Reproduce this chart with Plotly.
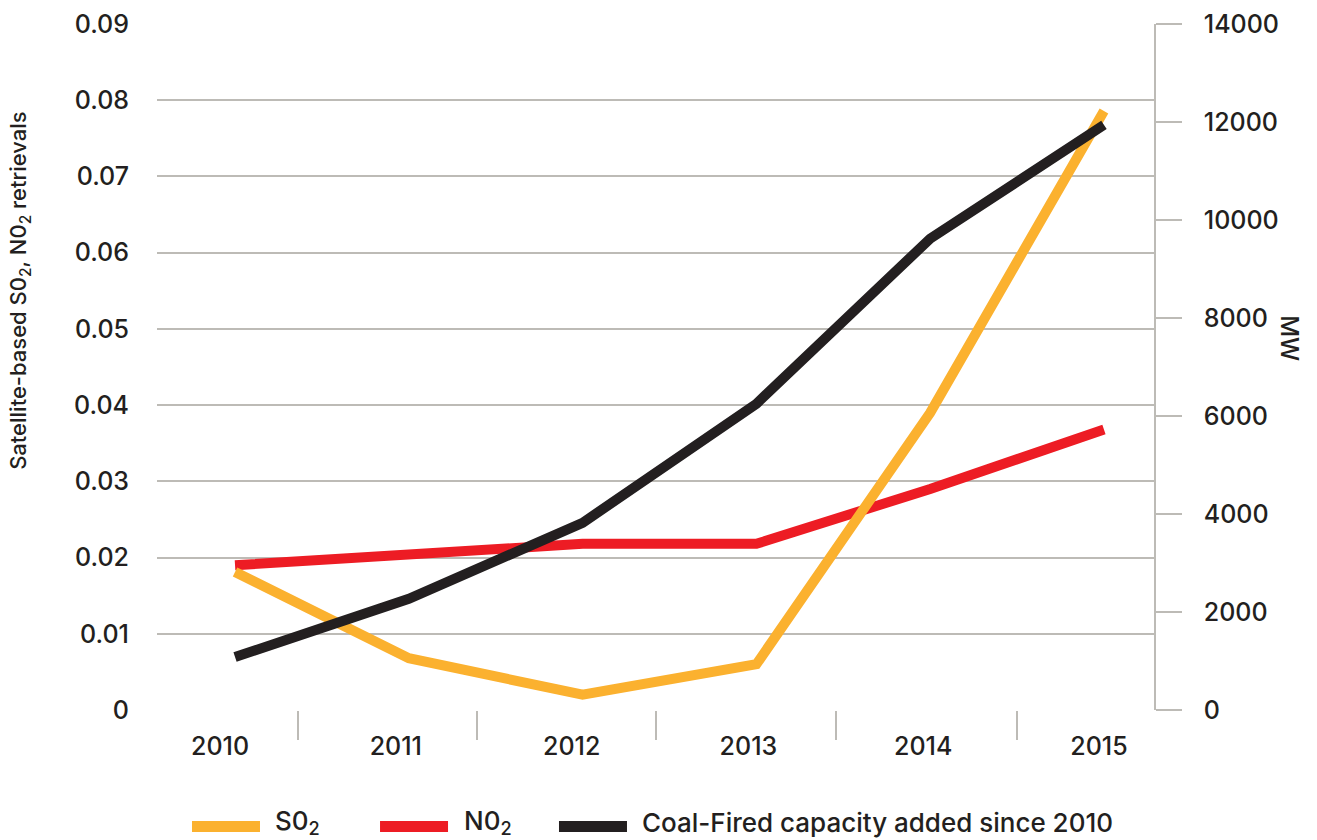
import plotly.graph_objects as go

years = [2010, 2011, 2012, 2013, 2014, 2015]
so2 = [0.0181, 0.0068, 0.0020, 0.0060, 0.0390, 0.0786]
no2 = [0.0190, 0.0205, 0.0218, 0.0218, 0.0290, 0.0368]
coal_mw = [1080, 2270, 3820, 6250, 9620, 11940]
year_labels = ["2010", "2011", "2012", "2013", "2014", "2015"]
year_label_pos = [2009.914, 2010.925, 2011.937, 2012.954, 2013.960, 2014.971]
boundary_ticks = [2010.36, 2011.39, 2012.42, 2013.46, 2014.50]
left_ticks = [0, 0.01, 0.02, 0.03, 0.04, 0.05, 0.06, 0.07, 0.08, 0.09]
left_labels = ["0", "0.01", "0.02", "0.03", "0.04", "0.05", "0.06", "0.07", "0.08", "0.09"]
right_ticks = [0, 2000, 4000, 6000, 8000, 10000, 12000, 14000]
right_labels = ["0", "2000", "4000", "6000", "8000", "10000", "12000", "14000"]
series_names = ["S0<sub>2</sub>", "N0<sub>2</sub>", "Coal-Fired capacity added since 2010"]

YELLOW = "#FBB12F"
RED = "#ED1C24"
BLACK = "#231F20"
GRID = "#BDBBB6"
TXT = "#231F20"
FONT = "Inter, Liberation Sans, Arial, sans-serif"
W = 500

fig = go.Figure()
fig.add_trace(go.Scatter(x=years, y=no2, mode="lines", name=series_names[1],
                         line=dict(color=RED, width=10)))
fig.add_trace(go.Scatter(x=years, y=coal_mw, mode="lines", name=series_names[2],
                         line=dict(color=BLACK, width=10), yaxis="y2"))
fig.add_trace(go.Scatter(x=years, y=so2, mode="lines", name=series_names[0],
                         line=dict(color=YELLOW, width=10)))

# manual legend (long swatches as in the reference)
legend_items = [
    (series_names[0], YELLOW, 0.0351, 0.1033, 0.1163),
    (series_names[1], RED, 0.2237, 0.2919, 0.3059),
    (series_names[2], BLACK, 0.4032, 0.4714, 0.4845),
]
ly = -0.1698
shapes = []
annotations = []
for name, col, x0, x1, xt in legend_items:
    shapes.append(dict(type="line", xref="paper", yref="paper", x0=x0, x1=x1,
                       y0=ly, y1=ly, line=dict(color=col, width=11)))
    annotations.append(dict(text=name, xref="paper", yref="paper", x=xt, y=ly + 0.006,
                            xanchor="left", yanchor="middle", showarrow=False,
                            font=dict(size=26, color=TXT, weight=W)))

annotations += [
    dict(text="Satellite-based S0<sub>2</sub>, N0<sub>2</sub> retrievals",
         xref="paper", yref="paper", x=-0.1374, y=0.611,
         xanchor="center", yanchor="middle", textangle=-90,
         showarrow=False, font=dict(size=22, color=TXT, weight=W)),
    dict(text="MW", xref="paper", yref="paper", x=1.1364, y=0.542,
         xanchor="center", yanchor="middle", textangle=90,
         showarrow=False, font=dict(size=24, color=TXT, weight=W)),
]

fig.update_layout(
    width=1317, height=840,
    margin=dict(l=157, r=163, t=24, b=130, autoexpand=False),
    plot_bgcolor="white", paper_bgcolor="white",
    font=dict(family=FONT, size=25, color=TXT, weight=W),
    showlegend=False,
    xaxis=dict(
        range=[2009.551, 2015.288], automargin=False,
        tickvals=year_label_pos, ticktext=year_labels,
        ticks="outside", ticklen=14, tickcolor="rgba(0,0,0,0)",
        showgrid=False, zeroline=False, showline=False,
        tickfont=dict(size=25, weight=W),
        minor=dict(tickvals=boundary_ticks, ticks="outside", ticklen=29,
                   tickcolor=GRID, tickwidth=1.5, showgrid=False),
    ),
    yaxis=dict(
        range=[0, 0.09], tickvals=left_ticks, ticktext=left_labels, automargin=False,
        showgrid=True, gridcolor=GRID, gridwidth=1.5,
        zeroline=False, showline=False,
        ticks="outside", ticklen=22, tickcolor="rgba(0,0,0,0)",
        tickfont=dict(size=25, weight=W),
    ),
    yaxis2=dict(
        range=[0, 14000], tickvals=right_ticks, ticktext=right_labels,
        overlaying="y", side="right", automargin=False,
        showgrid=False, zeroline=False,
        showline=True, linecolor=GRID, linewidth=1.5,
        ticks="outside", ticklen=26, tickcolor=GRID, tickwidth=1.5,
        ticklabelstandoff=17, tickfont=dict(size=25, weight=W),
    ),
    shapes=shapes,
    annotations=annotations,
)

fig.write_html(
    "out.html",
    config={"displayModeBar": False},
    post_script="document.body.style.margin='0';document.body.style.overflow='hidden';",
)
